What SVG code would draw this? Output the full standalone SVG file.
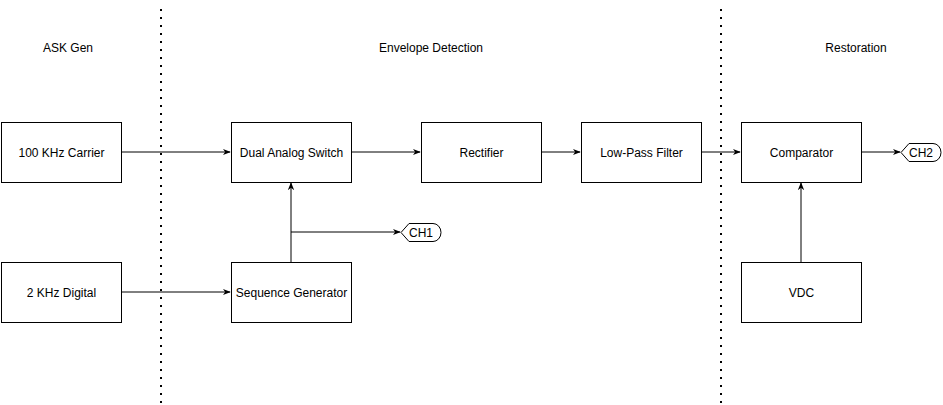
<svg xmlns="http://www.w3.org/2000/svg" width="943" height="405" viewBox="0 0 943 405">
<style>
.box{fill:#fff;stroke:#000;stroke-width:1}
text{font-family:Helvetica,"Liberation Sans",Arial,sans-serif;font-size:12px;fill:#000;text-anchor:middle;dominant-baseline:central}
.ln{fill:none;stroke:#000;stroke-width:1}
.dot{fill:none;stroke:#000;stroke-width:2;stroke-dasharray:2 6}
</style>
<defs>
<marker id="a" viewBox="0 0 10 10" refX="9" refY="5" markerWidth="8" markerHeight="8" markerUnits="userSpaceOnUse" orient="auto">
<path d="M0,1 L10,5 L0,9 L3,5 Z" fill="#000"/>
</marker>
</defs>
<rect width="943" height="405" fill="#fff"/>
<g id="dividers">
<line class="dot" x1="161" y1="9" x2="161" y2="403"/>
<line class="dot" x1="721" y1="9" x2="721" y2="403"/>
</g>
<g id="labels">
<text x="68" y="48">ASK Gen</text>
<text x="431" y="48">Envelope Detection</text>
<text x="856" y="48">Restoration</text>
</g>
<g id="connectors">
<line class="ln" x1="121" y1="152" x2="230" y2="152" marker-end="url(#a)"/>
<line class="ln" x1="351" y1="152" x2="420" y2="152" marker-end="url(#a)"/>
<line class="ln" x1="541" y1="152" x2="580" y2="152" marker-end="url(#a)"/>
<line class="ln" x1="701" y1="152" x2="740" y2="152" marker-end="url(#a)"/>
<line class="ln" x1="861" y1="152" x2="900" y2="152" marker-end="url(#a)"/>
<line class="ln" x1="121" y1="292" x2="230" y2="292" marker-end="url(#a)"/>
<line class="ln" x1="291" y1="262" x2="291" y2="183" marker-end="url(#a)"/>
<line class="ln" x1="291" y1="232" x2="400" y2="232" marker-end="url(#a)"/>
<line class="ln" x1="801" y1="262" x2="801" y2="183" marker-end="url(#a)"/>
</g>
<g id="carrier"><rect class="box" x="1.5" y="122.5" width="120" height="60"/><text x="61.5" y="152.5">100 KHz Carrier</text></g>
<g id="digital"><rect class="box" x="1.5" y="262.5" width="120" height="60"/><text x="61.5" y="292.5">2 KHz Digital</text></g>
<g id="switch"><rect class="box" x="231.5" y="122.5" width="120" height="60"/><text x="291.5" y="152.5">Dual Analog Switch</text></g>
<g id="seqgen"><rect class="box" x="231.5" y="262.5" width="120" height="60"/><text x="291.5" y="292.5">Sequence Generator</text></g>
<g id="rectifier"><rect class="box" x="421.5" y="122.5" width="120" height="60"/><text x="481.5" y="152.5">Rectifier</text></g>
<g id="lpf"><rect class="box" x="581.5" y="122.5" width="120" height="60"/><text x="641.5" y="152.5">Low-Pass Filter</text></g>
<g id="comparator"><rect class="box" x="741.5" y="122.5" width="120" height="60"/><text x="801.5" y="152.5">Comparator</text></g>
<g id="vdc"><rect class="box" x="741.5" y="262.5" width="120" height="60"/><text x="801.5" y="292.5">VDC</text></g>
<g id="ch1"><path class="box" d="M401,232.5 L409,223.5 H433 A8,9 0 0 1 433,241.5 H409 Z"/><text x="421" y="233">CH1</text></g>
<g id="ch2"><path class="box" d="M901,152.5 L909,143.5 H933 A8,9 0 0 1 933,161.5 H909 Z"/><text x="921" y="153">CH2</text></g>
</svg>
